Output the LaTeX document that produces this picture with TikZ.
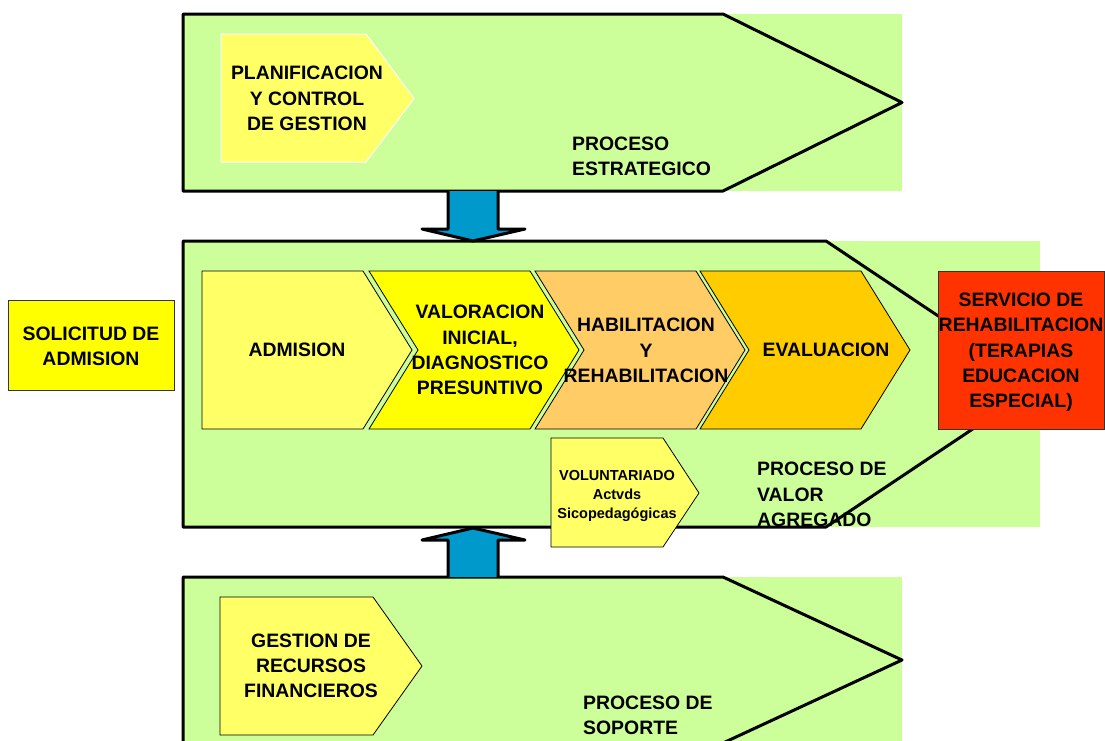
\documentclass[tikz,border=0pt]{standalone}
\usepackage{fontspec}
\setmainfont{Liberation Sans}
\definecolor{procgreen}{HTML}{CCFF99}
\definecolor{ylight}{HTML}{FFFF66}
\definecolor{ystrong}{HTML}{FFFF00}
\definecolor{olight}{HTML}{FFCC66}
\definecolor{gold}{HTML}{FFCC00}
\definecolor{redsv}{HTML}{FF3300}
\definecolor{bluearr}{HTML}{0099CC}
\begin{document}
\begin{tikzpicture}[x=1pt,y=-1pt,
  frame/.style={draw=black,line width=3pt,line join=round},
  chevbox/.style={draw=black,line width=0.8pt,line join=miter},
  blockarrow/.style={fill=bluearr,draw=black,line width=3pt,line join=round},
  lbl/.style={font=\bfseries\fontsize{19.4}{25.3}\selectfont,align=center,inner sep=0pt},
  lblleft/.style={font=\bfseries\fontsize{19.4}{25.3}\selectfont,align=left,inner sep=0pt,anchor=west},
  lblsmall/.style={font=\bfseries\fontsize{14.5}{19.3}\selectfont,align=center,inner sep=0pt}]
\useasboundingbox (0,0) rectangle (1105,740);
\clip (0,0) rectangle (1105,740);

% ---------- top: proceso estrategico
\fill[procgreen] (183,14) rectangle (902,191);
\draw[frame] (183,14) -- (723,14) -- (902,102.5) -- (723,191) -- (183,191) -- cycle;
\fill[ylight,draw=white,line width=1pt] (221,34) -- (366,34) -- (414,98.5) -- (366,162) -- (221,162) -- cycle;
\node[lbl] (plan) at (307,98.5) {PLANIFICACION\\Y CONTROL\\DE GESTION};
\node[lblleft] (estr) at (572,156) {PROCESO\\ESTRATEGICO};

% ---------- middle: proceso de valor agregado
\fill[procgreen] (183,241) rectangle (1040,527);
\draw[frame] (183,241) -- (826,241) -- (1040,384) -- (826,527) -- (183,527) -- cycle;

% chevrons
\filldraw[chevbox,fill=ylight] (202,271) -- (363,271) -- (412,350) -- (363,429) -- (202,429) -- cycle;
\filldraw[chevbox,fill=ystrong] (369,271) -- (530,271) -- (579,350) -- (530,429) -- (369,429) -- (418,350) -- cycle;
\filldraw[chevbox,fill=olight] (535,271) -- (696,271) -- (745,350) -- (696,429) -- (535,429) -- (584,350) -- cycle;
\filldraw[chevbox,fill=gold] (700,271) -- (861,271) -- (910,350) -- (861,429) -- (700,429) -- (749,350) -- cycle;

\node[lbl] (adm) at (297,350) {ADMISION};
\node[lbl] (val) at (480,350) {VALORACION\\INICIAL,\\DIAGNOSTICO\\PRESUNTIVO};
\node[lbl] (hab) at (646,350.5) {HABILITACION\\Y\\REHABILITACION};
\node[lbl] (eva) at (826,350) {EVALUACION};

% servicio
\filldraw[draw=black!80,line width=0.8pt,fill=redsv] (938,271) rectangle (1104,429);
\node[lbl] (serv) at (1021,352.5) {SERVICIO DE\\REHABILITACION\\(TERAPIAS\\EDUCACION\\ESPECIAL)};

% voluntariado
\filldraw[chevbox,fill=ylight] (551,438) -- (663,438) -- (699,493) -- (663,547) -- (551,547) -- cycle;
\node[lblsmall] (vol) at (617,496) {VOLUNTARIADO\\Actvds\\Sicopedagógicas};

\node[lblleft] (valor) at (757,494.5) {PROCESO DE\\VALOR\\AGREGADO};

% solicitud
\filldraw[draw=black!80,line width=0.8pt,fill=ystrong] (8,300) rectangle (174,390);
\node[lbl] (sol) at (91,346) {SOLICITUD DE\\ADMISION};

% ---------- bottom: proceso de soporte
\fill[procgreen] (183,577) rectangle (902,760);
\draw[frame] (183,577) -- (723,577) -- (902,660) -- (723,743) -- (183,743) -- cycle;
\filldraw[chevbox,fill=ylight] (220,597) -- (373,597) -- (422,666) -- (373,735) -- (220,735) -- cycle;
\node[lbl] (gest) at (311,666) {GESTION DE\\RECURSOS\\FINANCIEROS};
\node[lblleft] (sop) at (583,715) {PROCESO DE\\SOPORTE};

% ---------- block arrows
\path[blockarrow] (448,191) -- (448,229) -- (422,229) -- (473,241) -- (525,229) -- (498,229) -- (498,191);
\path[blockarrow] (448,577) -- (448,540) -- (422,540) -- (473,528) -- (525,540) -- (498,540) -- (498,577);
\end{tikzpicture}
\end{document}
